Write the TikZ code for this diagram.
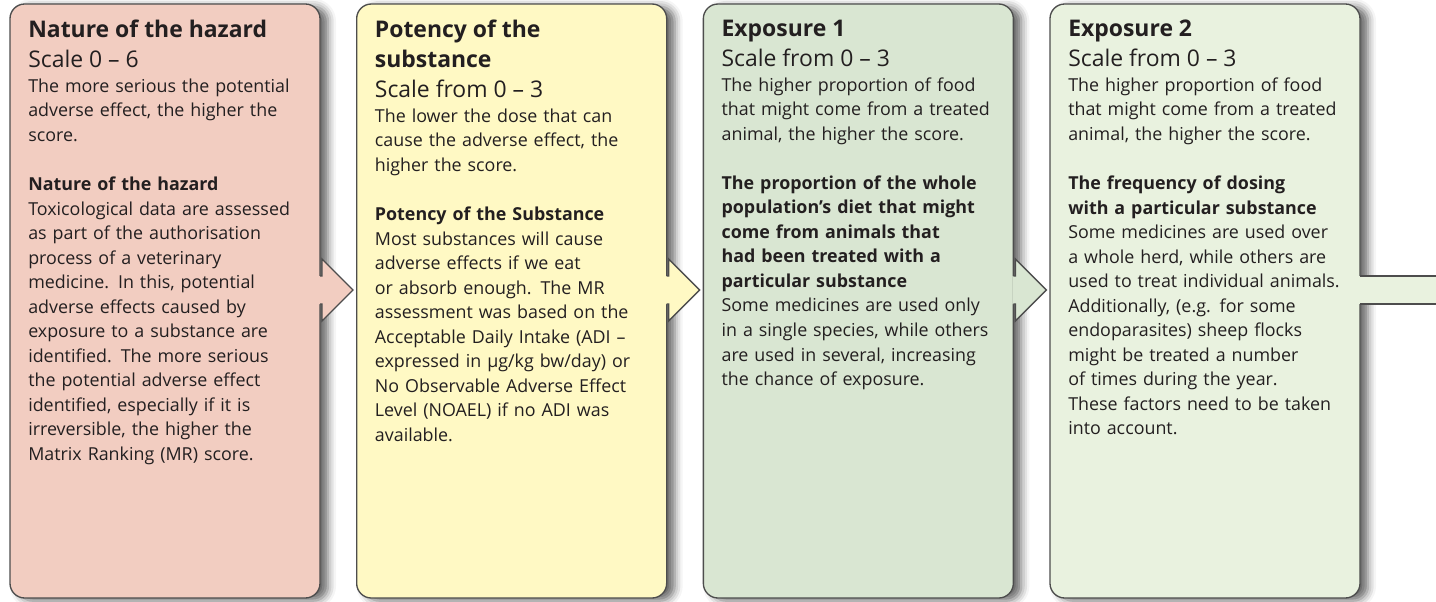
\documentclass[tikz,border=0pt]{standalone}
\usepackage{fontspec}
\setmainfont{Open Sans}
\usetikzlibrary{calc,positioning,shadows.blur}
\definecolor{hazardfill}{HTML}{F2CDC1}
\definecolor{potencyfill}{HTML}{FFF9C4}
\definecolor{expoAfill}{HTML}{D9E6D2}
\definecolor{expoBfill}{HTML}{E9F2DF}
\definecolor{edgegray}{HTML}{4D4D4D}
\definecolor{inkgray}{HTML}{231F20}
\newcommand{\headfont}{\fontsize{17.2}{22.5}\selectfont}
\newcommand{\bodyfont}{\fontsize{13.4}{18.4}\selectfont}

\begin{document}
\begin{tikzpicture}[x=0.75pt, y=-0.75pt,
  panel/.style = {draw=edgegray, line width=1pt, rounded corners=11pt,
    minimum width=232.5pt, minimum height=445.5pt, inner sep=0pt, outer sep=0pt,
    blur shadow={shadow xshift=6pt, shadow yshift=-2pt, shadow blur radius=6pt, shadow opacity=60}},
  paneltext/.style = {anchor=north west, inner sep=0pt, text width=228pt, align=left,
    text=inkgray, font=\bodyfont},
  ]
\useasboundingbox (0,0) rectangle (1436,601);
% the four panels
\node [panel, fill=hazardfill, anchor=north west] (hazard) at (10,4) {};
\node [panel, fill=potencyfill, right=27.5pt of hazard] (potency) {};
\node [panel, fill=expoAfill, right=27.5pt of potency] (expoA) {};
\node [panel, fill=expoBfill, right=27.5pt of expoA] (expoB) {};
% arrows out of the panels
\foreach \p/\c in {hazard/hazardfill, potency/potencyfill, expoA/expoAfill} {
  \fill [\c] ($(\p.north east)+(-1,272)$) -- ++(3,0) -- ++(0,-17) -- ++(31,31)
    -- ++(-31,31) -- ++(0,-17) -- ++(-3,0) -- cycle;
  \draw [edgegray, line width=1pt] ($(\p.north east)+(0,272)$) -- ++(2,0) -- ++(0,-17)
    -- ++(31,31) -- ++(-31,31) -- ++(0,-17) -- ++(-2,0);
}
\coordinate (barend) at (1438,290);
\fill [expoBfill] ($(expoB.north east)+(-1,272)$) rectangle ($(barend)+(0,14)$);
\draw [edgegray, line width=1pt] ($(expoB.north east)+(0,272)$) -- ($(barend)+(0,-14)$);
\draw [edgegray, line width=1pt] ($(expoB.north east)+(0,300)$) -- ($(barend)+(0,14)$);
% texts
\node [paneltext] (hazardtext) at ($(hazard.north west)+(18,16)$) {%
  {\headfont\textbf{Nature of the hazard}\\ Scale 0 -- 6\par}
  The more serious the potential\\ adverse effect, the higher the\\ score.\\[18.4pt]
  \textbf{Nature of the hazard}\\ Toxicological data are assessed\\ as part of the authorisation\\
  process of a veterinary\\ medicine. In this, potential\\ adverse effects caused by\\
  exposure to a substance are\\ identified. The more serious\\ the potential adverse effect\\
  identified, especially if it is\\ irreversible, the higher the\\ Matrix Ranking (MR) score.\par};
\node [paneltext] (potencytext) at ($(potency.north west)+(18,16)$) {%
  {\headfont\textbf{Potency of the}\\ \textbf{substance}\\ Scale from 0 -- 3\par}
  The lower the dose that can\\ cause the adverse effect, the\\ higher the score.\\[18.4pt]
  \textbf{Potency of the Substance}\\ Most substances will cause\\ adverse effects if we eat\\
  or absorb enough. The MR\\ assessment was based on the\\ Acceptable Daily Intake (ADI --\\
  expressed in µg/kg bw/day) or\\ No Observable Adverse Effect\\ Level (NOAEL) if no ADI was\\
  available.\par};
\node [paneltext] (expoAtext) at ($(expoA.north west)+(18,16)$) {%
  {\headfont\textbf{Exposure 1}\\ Scale from 0 -- 3\par}
  The higher proportion of food\\ that might come from a treated\\ animal, the higher the score.\\[18.4pt]
  \textbf{The proportion of the whole}\\ \textbf{population’s diet that might}\\
  \textbf{come from animals that}\\ \textbf{had been treated with a}\\ \textbf{particular substance}\\
  Some medicines are used only\\ in a single species, while others\\ are used in several, increasing\\
  the chance of exposure.\par};
\node [paneltext] (expoBtext) at ($(expoB.north west)+(18,16)$) {%
  {\headfont\textbf{Exposure 2}\\ Scale from 0 -- 3\par}
  The higher proportion of food\\ that might come from a treated\\ animal, the higher the score.\\[18.4pt]
  \textbf{The frequency of dosing}\\ \textbf{with a particular substance}\\
  Some medicines are used over\\ a whole herd, while others are\\ used to treat individual animals.\\
  Additionally, (e.g. for some\\ endoparasites) sheep flocks\\ might be treated a number\\
  of times during the year.\\ These factors need to be taken\\ into account.\par};
\end{tikzpicture}
\end{document}
